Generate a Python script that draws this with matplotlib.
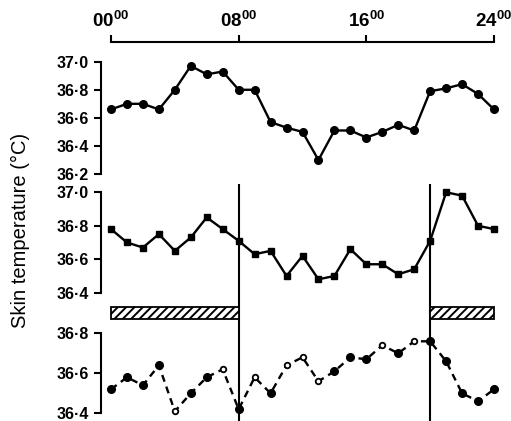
import matplotlib
matplotlib.use("Agg")
import matplotlib.pyplot as plt
import numpy as np

plt.rcParams['font.family'] = ['Liberation Sans', 'DejaVu Sans']
plt.rcParams['mathtext.fontset'] = 'custom'
plt.rcParams['mathtext.rm'] = 'Liberation Sans'
plt.rcParams['mathtext.bf'] = 'Liberation Sans:bold'
plt.rcParams['hatch.linewidth'] = 1.4

hours = np.arange(25)

# top panel (filled circles)
temp_top = [36.66, 36.70, 36.70, 36.66, 36.80, 36.97, 36.91, 36.93, 36.80, 36.80,
            36.57, 36.53, 36.50, 36.30, 36.51, 36.51, 36.46, 36.50, 36.55, 36.51,
            36.79, 36.81, 36.84, 36.77, 36.66]
# middle panel (squares)
temp_mid = [36.78, 36.70, 36.67, 36.75, 36.65, 36.73, 36.85, 36.78, 36.71, 36.63,
            36.65, 36.50, 36.62, 36.48, 36.50, 36.66, 36.57, 36.57, 36.51, 36.54,
            36.71, 37.00, 36.98, 36.80, 36.78]
# bottom panel (dashed)
temp_bot = [36.52, 36.58, 36.54, 36.64, 36.41, 36.50, 36.58, 36.62, 36.42, 36.58,
            36.50, 36.64, 36.68, 36.56, 36.61, 36.68, 36.67, 36.74, 36.70, 36.76,
            36.76, 36.66, 36.50, 36.46, 36.52]
open_idx = [4, 7, 9, 11, 12, 13, 17, 19]

sleep_periods = [(0, 8), (20, 24)]
light_changes = [8, 20]

time_ticks = [0, 8, 16, 24]
time_labels = [r'$\mathbf{00^{00}}$', r'$\mathbf{08^{00}}$',
               r'$\mathbf{16^{00}}$', r'$\mathbf{24^{00}}$']

W, H = 511, 421
fig = plt.figure(figsize=(W / 100, H / 100), dpi=100)

x0 = 111 / W
wd = 383 / W


def panel(top_px, bot_px):
    return fig.add_axes([x0, (H - bot_px) / H, wd, (bot_px - top_px) / H])


def style(ax, lo, hi, ticks):
    ax.set_xlim(0, 24)
    ax.set_ylim(lo, hi)
    for s in ['right', 'bottom', 'top']:
        ax.spines[s].set_visible(False)
    ax.spines['left'].set_position(('outward', 7))
    ax.spines['left'].set_bounds(lo, hi)
    ax.spines['left'].set_linewidth(1.5)
    ax.set_yticks(ticks)
    ax.set_yticklabels([('%.1f' % t).replace('.', '\u00b7') for t in ticks],
                       fontsize=11.5, fontweight='bold')
    ax.tick_params(axis='y', direction='out', length=5, width=1.5, pad=4)
    ax.set_xticks([])
    ax.patch.set_alpha(0)


# vertical lines overlay
ov = fig.add_axes([x0, 0, wd, (H - 184) / H])
ov.set_xlim(0, 24)
ov.set_ylim(0, 1)
ov.axis('off')
for t in light_changes:
    ov.axvline(t, color='black', lw=1.5)

# top panel
ax1 = panel(61.7, 174)
style(ax1, 36.2, 37.0, [36.2, 36.4, 36.6, 36.8, 37.0])
ax1.plot(hours, temp_top, '-o', color='black', lw=1.7, ms=5.5, clip_on=False)
ax1.spines['top'].set_visible(True)
ax1.spines['top'].set_position(('outward', 14.4))
ax1.spines['top'].set_linewidth(1.5)
ax1.xaxis.set_ticks_position('top')
ax1.set_xticks(time_ticks)
ax1.set_xticklabels(time_labels, fontsize=13.5)
ax1.tick_params(axis='x', direction='out', length=5, width=1.5, pad=3)

# middle panel
ax2 = panel(192.3, 292.7)
style(ax2, 36.4, 37.0, [36.4, 36.6, 36.8, 37.0])
ax2.plot(hours, temp_mid, '-s', color='black', lw=1.7, ms=5, clip_on=False)

# hatched bars (dark periods)
axb = panel(307, 319)
axb.set_xlim(0, 24)
axb.set_ylim(0, 1)
axb.axis('off')
for a, b in sleep_periods:
    axb.barh(0.5, b - a, left=a, height=1, color='white', edgecolor='black',
             hatch='////', lw=1.3, clip_on=False)

# bottom panel
ax3 = panel(333.3, 413.3)
style(ax3, 36.4, 36.8, [36.4, 36.6, 36.8])
ax3.plot(hours, temp_bot, '--', color='black', lw=1.7, dashes=(3, 2.2), clip_on=False)
filled = [i for i in range(len(hours)) if i not in open_idx]
ax3.plot(hours[filled], np.array(temp_bot)[filled], 'o', color='black', ms=5.5, clip_on=False)
ax3.plot(hours[open_idx], np.array(temp_bot)[open_idx], 'o', mfc='white', mec='black',
         mew=1.3, ms=4, clip_on=False)

fig.text(20 / W, 1 - 230 / H, 'Skin temperature (\u00b0C)', rotation=90,
         ha='center', va='center', fontsize=14.5)

fig.savefig('out.png', dpi=100)
